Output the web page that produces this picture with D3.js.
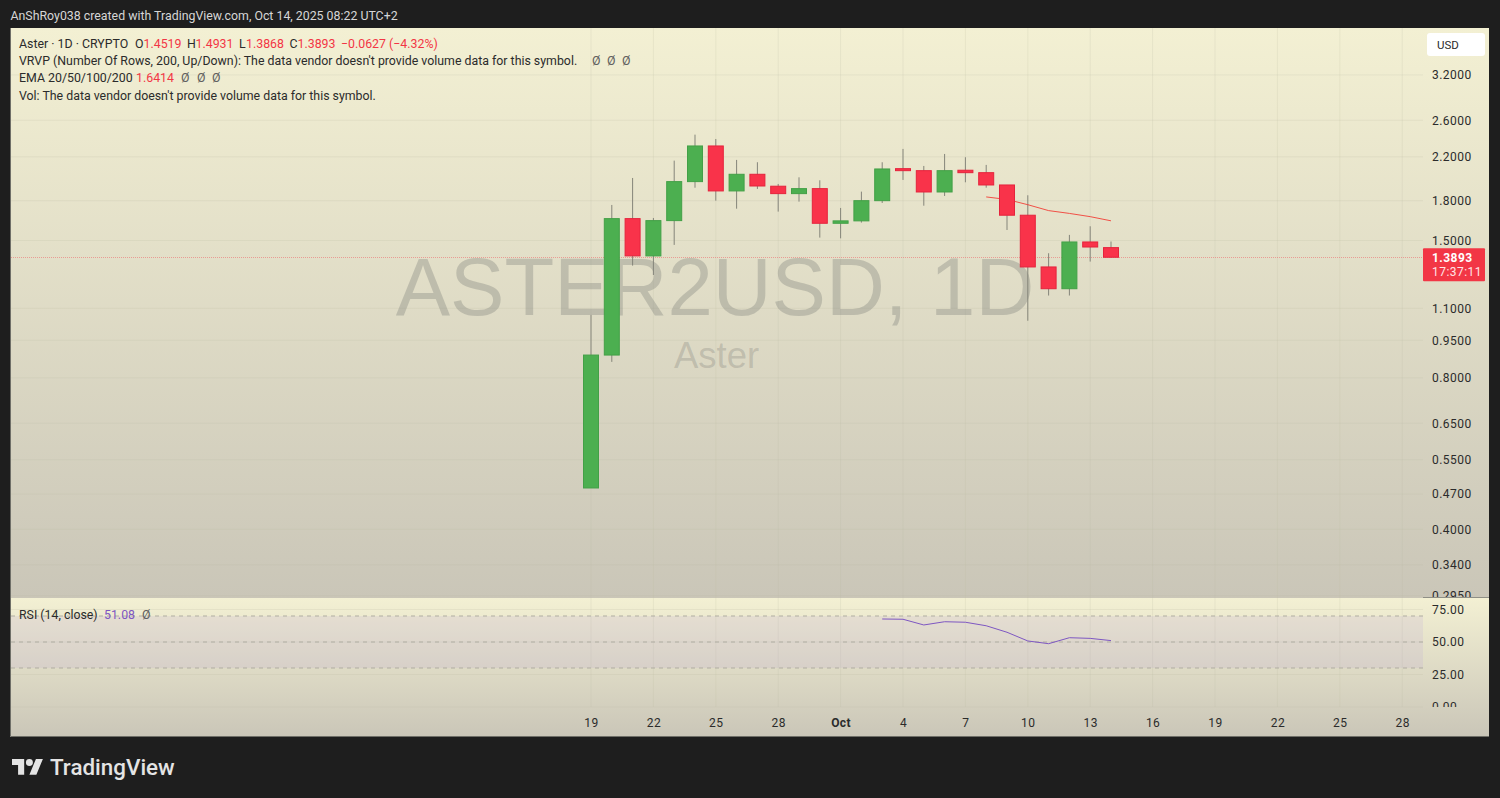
<!DOCTYPE html>
<html>
<head>
<meta charset="utf-8">
<script src="https://cdn.jsdelivr.net/npm/d3@7"></script>
<style>
html, body { margin: 0; padding: 0; background: #1e1e1e; overflow: hidden; }
svg { display: block; }
text { font-family: Roboto, sans-serif; }
.axis path, .axis line { display: none; }
.axis text { fill: #2b2b2b; font-size: 12px; letter-spacing: 0.45px; font-family: Roboto, sans-serif; }
.legend { font-size: 12.35px; fill: #2b2b2b; }
</style>
</head>
<body>
<svg id="chart" width="1500" height="798"></svg>
<script>
// days since the first candle, Sep 19 2025
var dates = ["2025-09-19","2025-09-20","2025-09-21","2025-09-22","2025-09-23","2025-09-24","2025-09-25","2025-09-26",
  "2025-09-27","2025-09-28","2025-09-29","2025-09-30","2025-10-01","2025-10-02","2025-10-03","2025-10-04","2025-10-05",
  "2025-10-06","2025-10-07","2025-10-08","2025-10-09","2025-10-10","2025-10-11","2025-10-12","2025-10-13","2025-10-14"];
var opens = [0.4833,0.888,1.658,1.398,1.643,1.964,2.312,1.882,2.031,1.923,1.859,1.902,1.623,1.641,1.800,2.084,2.065,1.873,2.069,2.046,1.934,1.684,1.329,1.203,1.490,1.4519];
var closes = [0.888,1.658,1.398,1.643,1.964,2.312,1.882,2.031,1.925,1.859,1.902,1.623,1.641,1.800,2.081,2.065,1.873,2.065,2.046,1.934,1.684,1.329,1.203,1.490,1.456,1.3893];
var highs = [1.067,1.765,1.997,1.663,2.162,2.435,2.387,2.169,2.146,1.943,2.003,1.976,1.741,1.876,2.146,2.281,2.110,2.229,2.196,2.120,1.934,1.845,1.415,1.539,1.601,1.4931];
var lows = [0.4833,0.8606,1.337,1.281,1.470,1.910,1.800,1.735,1.899,1.712,1.792,1.520,1.515,1.628,1.781,1.979,1.759,1.839,1.958,1.910,1.574,1.039,1.166,1.166,1.362,1.3868];

var emaDates = ["2025-10-08","2025-10-09","2025-10-10","2025-10-11","2025-10-12","2025-10-13","2025-10-14"];
var emaValues = [1.831,1.810,1.767,1.720,1.698,1.673,1.6414];

var rsiDates = ["2025-10-03","2025-10-04","2025-10-05","2025-10-06","2025-10-07","2025-10-08","2025-10-09","2025-10-10","2025-10-11","2025-10-12","2025-10-13","2025-10-14"];
var rsiValues = [67.7,67.5,63.1,65.6,65.2,62.5,57.5,50.8,48.7,53.3,52.8,51.08];

var priceTicks = [3.2,2.6,2.2,1.8,1.5,1.1,0.95,0.8,0.65,0.55,0.47,0.4,0.34,0.295];
var rsiTicks = [75,50,25,0];
var rsiBands = [70,50,30];
var timeTicks = ["2025-09-19","2025-09-22","2025-09-25","2025-09-28","2025-10-01","2025-10-04","2025-10-07","2025-10-10","2025-10-13","2025-10-16","2025-10-19","2025-10-22","2025-10-25","2025-10-28"];
var lastPrice = 1.3893;

var parseDay = d3.utcParse("%Y-%m-%d");

var svg = d3.select("#chart"),
    pane = {left: 11, right: 1423, top: 28, split: 598, rsiBottom: 707, bottom: 737, edge: 1489};

var x = d3.scaleUtc()
    .domain([parseDay("2025-08-22"), parseDay("2025-10-29")])
    .range([591 - 28 * 20.8, 591 + 40 * 20.8]);
var y = d3.scaleLog().domain([0.2921, 3.967]).range([pane.split, pane.top]);
var yRsi = d3.scaleLinear().domain([0, 83.85]).range([pane.rsiBottom, pane.split]);

var defs = svg.append("defs");
function addGradient(id) {
  var g = defs.append("linearGradient").attr("id", id).attr("x1", 0).attr("y1", 0).attr("x2", 0).attr("y2", 1);
  g.append("stop").attr("offset", "0%").attr("stop-color", "#f3f0d3");
  g.append("stop").attr("offset", "100%").attr("stop-color", "#cac6b8");
}
addGradient("bgMain");
addGradient("bgRsi");
// axis groups are shifted by pane.right, so the clips start at 0
defs.append("clipPath").attr("id", "clipMain").append("rect")
    .attr("x", 0).attr("y", pane.top).attr("width", 70).attr("height", pane.split - pane.top - 1);
defs.append("clipPath").attr("id", "clipRsi").append("rect")
    .attr("x", 0).attr("y", pane.split).attr("width", 70).attr("height", pane.rsiBottom - pane.split);

// header
svg.append("text").attr("x", 10.5).attr("y", 20)
    .attr("fill", "#d6d6d6").style("font-size", "12.35px")
    .text("AnShRoy038 created with TradingView.com, Oct 14, 2025 08:22 UTC+2");

// panes
svg.append("rect").attr("x", pane.left - 1).attr("y", pane.top).attr("width", pane.edge - pane.left + 1)
    .attr("height", pane.split - pane.top).attr("fill", "url(#bgMain)");
svg.append("rect").attr("x", pane.left - 1).attr("y", pane.split).attr("width", pane.edge - pane.left + 1)
    .attr("height", pane.bottom - pane.split).attr("fill", "url(#bgRsi)");
svg.append("line").attr("x1", pane.right).attr("x2", pane.edge).attr("y1", pane.split - 0.5).attr("y2", pane.split - 0.5)
    .attr("stroke", "#8f8f86").attr("stroke-width", 1);

// grid
var grid = svg.append("g").attr("stroke", "#b9b79f").attr("stroke-opacity", 0.2).attr("stroke-width", 1);
grid.selectAll(".gridY").data(priceTicks).enter().append("line")
    .attr("x1", pane.left).attr("x2", pane.right)
    .attr("y1", function(d) { return y(d); }).attr("y2", function(d) { return y(d); });
grid.selectAll(".gridR").data(rsiTicks).enter().append("line")
    .attr("x1", pane.left).attr("x2", pane.right)
    .attr("y1", function(d) { return yRsi(d); }).attr("y2", function(d) { return yRsi(d); });
grid.selectAll(".gridX").data(timeTicks).enter().append("path")
    .attr("d", function(d) {
      var px = x(parseDay(d));
      return "M" + px + "," + pane.top + "V" + pane.split + "M" + px + "," + pane.split + "V" + pane.rsiBottom;
    });

// watermark
svg.append("text").attr("x", 715).attr("y", 315).attr("text-anchor", "middle")
    .attr("fill", "#7c7d78").attr("fill-opacity", 0.34)
    .style("font-family", "'Liberation Sans', Arial, sans-serif").style("font-size", "81.5px")
    .text("ASTER2USD, 1D");
svg.append("text").attr("x", 716.5).attr("y", 368).attr("text-anchor", "middle")
    .attr("fill", "#7c7d78").attr("fill-opacity", 0.3)
    .style("font-family", "'Liberation Sans', Arial, sans-serif").style("font-size", "36.5px")
    .text("Aster");

// last price line, snapped so the dots stay pink
var lastY = Math.round(y(lastPrice)) + 0.5;
svg.append("line").attr("x1", pane.left).attr("x2", pane.right).attr("y1", lastY).attr("y2", lastY)
    .attr("stroke", "#f23645").attr("stroke-opacity", 0.4).attr("stroke-dasharray", "1 1");

// candles
var bars = dates.map(function(d, i) {
  return {date: parseDay(d), open: opens[i], close: closes[i], high: highs[i], low: lows[i]};
});
var bodyWidth = 15;

svg.selectAll(".wick").data(bars).enter().append("line")
    .attr("class", "wick")
    .attr("x1", function(d) { return x(d.date); })
    .attr("x2", function(d) { return x(d.date); })
    .attr("y1", function(d) { return y(d.high); })
    .attr("y2", function(d) { return y(d.low); })
    .attr("stroke", "#85857a").attr("stroke-width", 1);

// EMA goes under the bodies, the Oct 9 candle covers it
var ema = emaDates.map(function(d, i) { return {date: parseDay(d), value: emaValues[i]}; });
svg.append("path").datum(ema)
    .attr("fill", "none").attr("stroke", "#f2362f").attr("stroke-opacity", 0.85).attr("stroke-width", 1)
    .attr("d", d3.line().x(function(d) { return x(d.date); }).y(function(d) { return y(d.value); }));

svg.selectAll(".bar").data(bars).enter().append("rect")
    .attr("class", "bar")
    .attr("x", function(d) { return x(d.date) - bodyWidth / 2; })
    .attr("width", bodyWidth)
    .attr("y", function(d) { return y(Math.max(d.open, d.close)); })
    .attr("height", function(d) { return Math.abs(y(d.open) - y(d.close)); })
    .attr("fill", function(d) { return d.close >= d.open ? "#4caf50" : "#f9334a"; })
    .attr("stroke", function(d) { return d.close >= d.open ? "#43a047" : "#e5233c"; })
    .attr("stroke-width", 1);

// RSI
svg.append("rect").attr("x", pane.left).attr("width", pane.right - pane.left)
    .attr("y", yRsi(rsiBands[0])).attr("height", yRsi(rsiBands[2]) - yRsi(rsiBands[0]))
    .attr("fill", "#b39ddb").attr("fill-opacity", 0.16);
svg.selectAll(".band").data(rsiBands).enter().append("line")
    .attr("x1", pane.left).attr("x2", pane.right)
    .attr("y1", function(d) { return yRsi(d); }).attr("y2", function(d) { return yRsi(d); })
    .attr("stroke", "#b0ada1").attr("stroke-dasharray", "4 4");
var rsi = rsiDates.map(function(d, i) { return {date: parseDay(d), value: rsiValues[i]}; });
svg.append("path").datum(rsi)
    .attr("fill", "none").attr("stroke", "#7e57c2").attr("stroke-width", 1)
    .attr("d", d3.line().x(function(d) { return x(d.date); }).y(function(d) { return yRsi(d.value); }));

// axes
svg.append("g").attr("class", "axis").attr("clip-path", "url(#clipMain)")
    .attr("transform", "translate(1423,0)")
    .call(d3.axisRight(y).tickValues(priceTicks).tickSize(0).tickPadding(9).tickFormat(d3.format(".4f")));
svg.append("g").attr("class", "axis").attr("clip-path", "url(#clipRsi)")
    .attr("transform", "translate(1423,0)")
    .call(d3.axisRight(yRsi).tickValues(rsiTicks).tickSize(0).tickPadding(9).tickFormat(d3.format(".2f")));
svg.append("g").attr("class", "axis")
    .attr("transform", "translate(0,718)")
    .call(d3.axisBottom(x).tickValues(timeTicks.map(parseDay)).tickSize(0).tickPadding(0)
      .tickFormat(function(d) { return d.getUTCMonth() === 9 && d.getUTCDate() === 1 ? "Oct" : d.getUTCDate(); }))
    .selectAll("text")
    .style("font-weight", function(d) { return d.getUTCMonth() === 9 && d.getUTCDate() === 1 ? 700 : 400; });

// USD button and last price label
svg.append("rect").attr("x", 1427).attr("y", 33).attr("width", 58).attr("height", 23).attr("rx", 3).attr("fill", "#ffffff");
svg.append("text").attr("x", 1437).attr("y", 49).attr("fill", "#2b2b2b").style("font-size", "11.5px").text("USD");
svg.append("rect").attr("x", 1423).attr("y", y(lastPrice) - 9).attr("width", 62).attr("height", 33).attr("rx", 1).attr("fill", "#f23645");
svg.append("text").attr("x", 1432).attr("y", y(lastPrice) + 4.5).attr("fill", "#ffffff")
    .style("font-size", "12px").style("font-weight", 700).style("letter-spacing", "0.45px").text(d3.format(".4f")(lastPrice));
svg.append("text").attr("x", 1432).attr("y", y(lastPrice) + 19).attr("fill", "#ffe3e5")
    .style("font-size", "12px").style("letter-spacing", "0.45px").text("17:37:11");

// legend
var red = "#f23645";
var legendRows = [
  {y: 47.5, parts: [[19, "Aster · 1D · CRYPTO", null], [135, "O", null], [143.5, "1.4519", red], [187, "H", null], [195.5, "1.4931", red],
    [239, "L", null], [246, "1.3868", red], [289.5, "C", null], [297.5, "1.3893", red], [341, "−0.0627 (−4.32%)", red]]},
  {y: 65, parts: [[19, "VRVP (Number Of Rows, 200, Up/Down): The data vendor doesn't provide volume data for this symbol.", null],
    [592, "Ø", "#5f5f5f"], [607, "Ø", "#5f5f5f"], [622, "Ø", "#5f5f5f"]]},
  {y: 82, parts: [[19, "EMA 20/50/100/200", null], [136, "1.6414", red], [181, "Ø", "#5f5f5f"], [197, "Ø", "#5f5f5f"], [212, "Ø", "#5f5f5f"]]},
  {y: 100, parts: [[19, "Vol: The data vendor doesn't provide volume data for this symbol.", null]]},
  {y: 618.5, parts: [[19, "RSI (14, close)", null], [104, "51.08", "#7e57c2"], [142, "Ø", "#5f5f5f"]]}
];
legendRows.forEach(function(row) {
  row.parts.forEach(function(p) {
    svg.append("text").attr("class", "legend").attr("x", p[0]).attr("y", row.y)
        .style("fill", p[2] || "#2b2b2b").text(p[1]);
  });
});

// logo
var logo = svg.append("g").attr("transform", "translate(12,755.5) scale(0.87)").attr("fill", "#e4e4e4");
logo.append("path").attr("d", "M14 22H7V11H0V4h14v18zM28 22h-8l7.5-18h8L28 22z");
logo.append("circle").attr("cx", 20).attr("cy", 8).attr("r", 4);
svg.append("text").attr("x", 50).attr("y", 775).attr("fill", "#e4e4e4")
    .style("font-size", "22.4px").style("font-weight", 500).text("TradingView");

// pane borders
svg.append("path").attr("fill", "none").attr("stroke", "#6f6f68").attr("stroke-width", 1)
    .attr("d", "M10.5,28V736.5H1489");
</script>
</body>
</html>
